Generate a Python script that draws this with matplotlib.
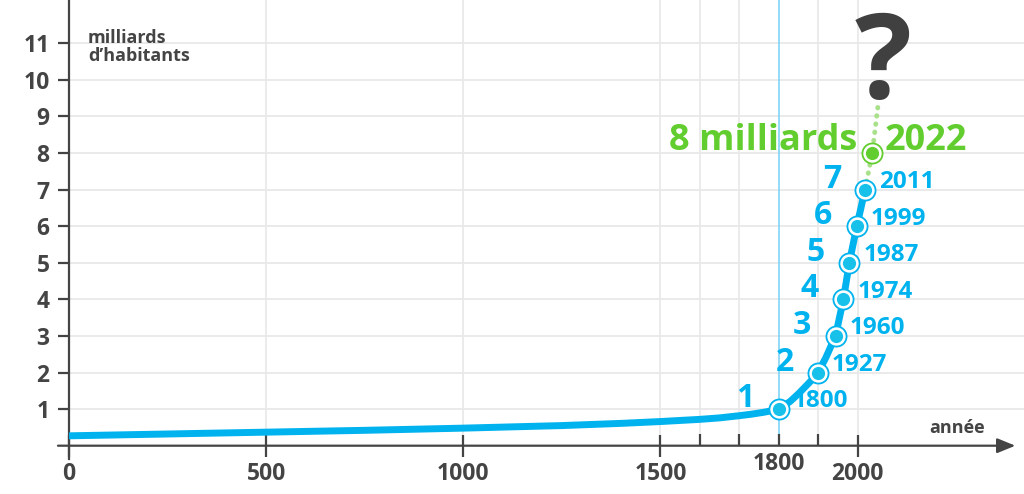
import matplotlib.pyplot as plt
from matplotlib.ticker import FixedLocator, NullFormatter

plt.rcParams['font.family'] = ['Open Sans', 'DejaVu Sans']
plt.rcParams['font.weight'] = 'bold'

# World population curve (billions)
curve_years = [0, 250, 500, 750, 1000, 1250, 1400, 1500, 1550, 1600, 1650, 1700,
               1730, 1760, 1780, 1800, 1815, 1830, 1850, 1870, 1885, 1900,
               1920, 1944, 1964, 1979, 1998, 2019]
curve_pop = [0.27, 0.32, 0.37, 0.42, 0.48, 0.55, 0.61, 0.66, 0.69, 0.72, 0.76, 0.82,
             0.86, 0.91, 0.95, 1.0, 1.1, 1.22, 1.42, 1.64, 1.81, 2.0,
             2.42, 3.0, 4.0, 5.0, 6.0, 7.0]

# milestones (drawn positions) and their labels
mile_x = [1800, 1900, 1944, 1964, 1979, 1998, 2019]
mile_pop = [1, 2, 3, 4, 5, 6, 7]
mile_labels = ['1800', '1927', '1960', '1974', '1987', '1999', '2011']

# projection towards the question mark
future_x = [2019, 2037, 2053]
future_pop = [7, 8, 9.4]
eight_x, eight_pop = 2037, 8

x_major = [0, 500, 1000, 1500, 2000]
x_minor = [1600, 1700, 1800, 1900]
y_ticks = list(range(1, 12))

blue = '#00b3ef'
blue_fill = '#17c1ea'
green = '#62cd2e'
green_light = '#a9e08a'
grey = '#444444'
grid_c = '#e8e8e8'

fig = plt.figure(figsize=(10.24, 4.94), dpi=100)
ax = fig.add_axes([0, 0, 1, 1])
ax.set_xlim(-175, 2422)
ax.set_ylim(-1.32, 12.18)

# grid
ax.hlines(y_ticks, 0, 2422, color=grid_c, lw=1.3, zorder=0)
ax.vlines([500, 1000, 1500, 1600, 1700, 1900, 2000], 0, 12.18, color=grid_c, lw=1.2, zorder=0)
ax.vlines([1800], 0, 12.18, color='#7fd4f6', lw=1.2, zorder=1)

# axes
for s in ['top', 'right', 'bottom']:
    ax.spines[s].set_visible(False)
ax.spines['left'].set_position(('data', 0))
ax.spines['left'].set_bounds(-0.36, 12.18)
ax.spines['left'].set_color(grey)
ax.spines['left'].set_linewidth(1.6)
ax.annotate('', xy=(2400, 0), xytext=(-28, 0),
            arrowprops=dict(arrowstyle='-|>,head_length=1.1,head_width=0.45',
                            color=grey, lw=1.6, shrinkA=0, shrinkB=0))

ax.set_yticks(y_ticks)
ax.tick_params(axis='y', direction='out', length=8, width=1.6, color=grey,
               labelsize=16.5, labelcolor=grey, pad=6)
ax.xaxis.set_ticks_position('bottom')
ax.spines['bottom'].set_position(('data', 0))
ax.set_xticks(x_major)
ax.tick_params(axis='x', which='major', direction='inout', length=16, width=1.6,
               color=grey, labelsize=16.5, labelcolor=grey, pad=4)
ax.xaxis.set_minor_locator(FixedLocator(x_minor))
ax.xaxis.set_minor_formatter(NullFormatter())
ax.tick_params(axis='x', which='minor', direction='in', length=9, width=1.6, color=grey)
ax.text(1800, -0.17, '1800', ha='center', va='top', fontsize=16.5, color=grey)

# curve
ax.plot(curve_years, curve_pop, color=blue, lw=5, solid_capstyle='butt',
        solid_joinstyle='round', zorder=3)
ax.plot(future_x, future_pop, color=green_light, lw=3.5,
        linestyle=(0, (0.1, 1.6)), dash_capstyle='round', zorder=2)

# milestone markers
ax.plot(mile_x, mile_pop, 'o', ms=14.5, mfc='white', mec=blue, mew=1.3, zorder=4)
ax.plot(mile_x, mile_pop, 'o', ms=9.5, mfc=blue_fill, mec='none', zorder=5)
ax.plot([eight_x], [eight_pop], 'o', ms=14.5, mfc='white', mec=green, mew=1.3, zorder=4)
ax.plot([eight_x], [eight_pop], 'o', ms=9.5, mfc=green, mec='none', zorder=5)

for x, p, lab in zip(mile_x, mile_pop, mile_labels):
    ax.annotate(str(p), (x, p), xytext=(-24, 7.5), textcoords='offset points',
                ha='center', va='center', fontsize=23, color=blue)
    ax.annotate(lab, (x, p), xytext=(10, 5.5), textcoords='offset points',
                ha='left', va='center', fontsize=17.5, color=blue)

ax.annotate('8 milliards', (eight_x, eight_pop), xytext=(-11, 8.5), textcoords='offset points',
            ha='right', va='center', fontsize=26, color=green)
ax.annotate('2022', (eight_x, eight_pop), xytext=(9, 8.5), textcoords='offset points',
            ha='left', va='center', fontsize=26, color=green)

ax.text(2064, 9.5, '?', ha='center', va='baseline', fontsize=86, color='#404040')
ax.text(48, 11.4, 'milliards\nd\u2019habitants', ha='left', va='top', fontsize=13,
        color=grey, linespacing=1.05)
ax.text(2252, 0.48, 'année', ha='center', va='center', fontsize=13, color=grey)

fig.savefig('out.png', dpi=100)
